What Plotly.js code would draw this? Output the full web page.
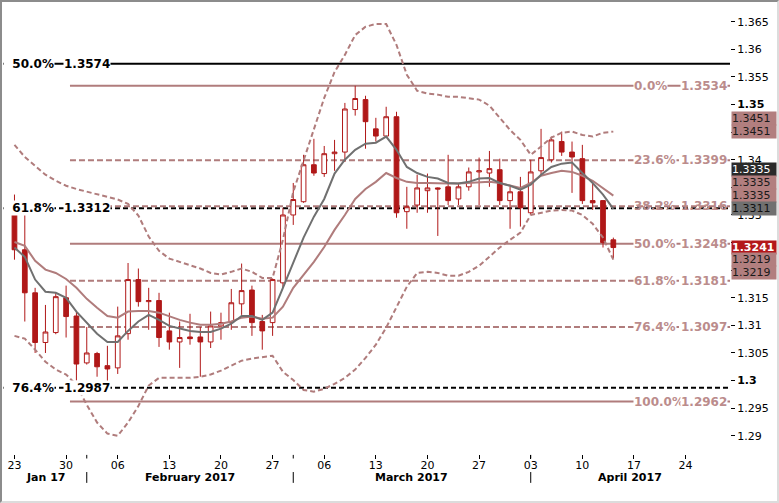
<!DOCTYPE html>
<html><head><meta charset="utf-8">
<script src="https://cdn.plot.ly/plotly-3.0.1.min.js"></script>
<style>
html,body{margin:0;padding:0;background:#fff;}
#wrap{position:relative;width:779px;height:503px;overflow:hidden;}
#chart{position:absolute;left:0;top:0;width:779px;height:503px;}
#frame{position:absolute;left:0;top:0;width:779px;height:503px;box-sizing:border-box;
border-top:2px solid #8c8c8c;border-left:2px solid #8c8c8c;border-right:2px solid #dcdcdc;border-bottom:2px solid #dcdcdc;pointer-events:none;}
</style></head>
<body><div id="wrap"><div id="chart"></div><div id="frame"></div></div>
<script>
// ---- data ----
const dates = ['2017-01-23','2017-01-24','2017-01-25','2017-01-26','2017-01-27','2017-01-30','2017-01-31',
'2017-02-01','2017-02-02','2017-02-03','2017-02-06','2017-02-07','2017-02-08','2017-02-09','2017-02-10',
'2017-02-13','2017-02-14','2017-02-15','2017-02-16','2017-02-17','2017-02-20','2017-02-21','2017-02-22',
'2017-02-23','2017-02-24','2017-02-27','2017-02-28',
'2017-03-01','2017-03-02','2017-03-03','2017-03-06','2017-03-07','2017-03-08','2017-03-09','2017-03-10',
'2017-03-13','2017-03-14','2017-03-15','2017-03-16','2017-03-17','2017-03-20','2017-03-21','2017-03-22',
'2017-03-23','2017-03-24','2017-03-27','2017-03-28','2017-03-29','2017-03-30','2017-03-31',
'2017-04-03','2017-04-04','2017-04-05','2017-04-06','2017-04-07','2017-04-10','2017-04-11','2017-04-12','2017-04-13'];
const open = [1.3300,1.3237,1.3159,1.3069,1.3087,1.3150,1.3117,1.3032,1.3049,1.3027,
1.3023,1.3085,1.3183,1.3143,1.3145,1.3090,1.3070,1.3079,1.3079,1.3070,
1.3099,1.3105,1.3139,1.3164,1.3107,1.3105,1.3177,1.3300,1.3324,1.3391,
1.3375,1.3411,1.3414,1.3491,1.3509,1.3456,1.3443,1.3478,1.3306,1.3318,
1.3344,1.3349,1.3351,1.3329,1.3351,1.3378,1.3376,1.3382,1.3326,1.3342,
1.3304,1.3380,1.3400,1.3433,1.3414,1.3402,1.3326,1.3326,1.3255];
const high = [1.3337,1.3304,1.3168,1.3137,1.3159,1.3172,1.3125,1.3097,1.3052,1.3063,
1.3134,1.3213,1.3203,1.3168,1.3159,1.3123,1.3107,1.3121,1.3097,1.3125,
1.3123,1.3166,1.3212,1.3172,1.3119,1.3185,1.3313,1.3358,1.3409,1.3438,
1.3425,1.3436,1.3503,1.3534,1.3516,1.3476,1.3496,1.3487,1.3351,1.3373,
1.3375,1.3350,1.3409,1.3358,1.3386,1.3404,1.3416,1.3402,1.3351,1.3369,
1.3400,1.3456,1.3442,1.3451,1.3433,1.3427,1.3358,1.3327,1.3259];
const low = [1.3219,1.3107,1.3050,1.3050,1.3084,1.3078,1.3000,1.3029,1.3007,1.2994,
1.3012,1.3074,1.3134,1.3092,1.3061,1.3056,1.3023,1.3065,1.3007,1.3059,
1.3074,1.3092,1.3119,1.3081,1.3056,1.3081,1.3168,1.3282,1.3322,1.3371,
1.3369,1.3380,1.3396,1.3480,1.3420,1.3433,1.3442,1.3295,1.3275,1.3304,
1.3304,1.3262,1.3318,1.3318,1.3344,1.3318,1.3351,1.3318,1.3275,1.3279,
1.3300,1.3371,1.3395,1.3407,1.3340,1.3320,1.3309,1.3241,1.3222];
const close = [1.3237,1.3159,1.3069,1.3088,1.3152,1.3116,1.3030,1.3050,1.3025,1.3021,
1.3081,1.3183,1.3143,1.3145,1.3078,1.3070,1.3078,1.3076,1.3070,1.3099,
1.3105,1.3141,1.3163,1.3105,1.3090,1.3183,1.3300,1.3328,1.3391,1.3376,
1.3411,1.3414,1.3492,1.3511,1.3469,1.3443,1.3478,1.3304,1.3315,1.3349,
1.3349,1.3347,1.3326,1.3351,1.3378,1.3380,1.3384,1.3326,1.3342,1.3313,
1.3378,1.3404,1.3436,1.3414,1.3405,1.3326,1.3322,1.3250,1.3241];
const fastMA = [1.3241,1.3224,1.3183,1.3161,1.3159,1.3150,1.3125,1.3105,1.3085,1.3070,
1.3070,1.3090,1.3107,1.3119,1.3110,1.3099,1.3094,1.3090,1.3088,1.3088,
1.3094,1.3103,1.3117,1.3117,1.3110,1.3123,1.3168,1.3215,1.3259,1.3297,
1.3329,1.3375,1.3400,1.3418,1.3429,1.3431,1.3442,1.3418,1.3387,1.3376,
1.3369,1.3366,1.3358,1.3357,1.3360,1.3366,1.3367,1.3358,1.3353,1.3346,
1.3355,1.3373,1.3387,1.3393,1.3395,1.3376,1.3358,1.3337,1.3311];
const midBand = [1.3251,1.3244,1.3217,1.3201,1.3195,1.3184,1.3168,1.3148,1.3132,1.3117,
1.3114,1.3125,1.3126,1.3126,1.3123,1.3116,1.3110,1.3105,1.3101,1.3101,
1.3103,1.3107,1.3114,1.3116,1.3112,1.3114,1.3134,1.3168,1.3192,1.3215,
1.3242,1.3273,1.3300,1.3329,1.3347,1.3360,1.3376,1.3367,1.3360,1.3358,
1.3358,1.3357,1.3357,1.3357,1.3358,1.3358,1.3360,1.3358,1.3353,1.3349,
1.3358,1.3371,1.3376,1.3380,1.3378,1.3371,1.3362,1.3349,1.3335];
const upperBand = [1.3427,1.3405,1.3389,1.3373,1.3362,1.3353,1.3347,1.3342,1.3337,1.3333,
1.3328,1.3320,1.3299,1.3261,1.3235,1.3221,1.3215,1.3208,1.3203,1.3195,
1.3192,1.3197,1.3203,1.3197,1.3186,1.3186,1.3255,1.3342,1.3400,1.3458,
1.3512,1.3559,1.3590,1.3626,1.3641,1.3646,1.3646,1.3608,1.3554,1.3525,
1.3520,1.3518,1.3514,1.3514,1.3512,1.3509,1.3498,1.3476,1.3454,1.3436,
1.3409,1.3424,1.3440,1.3449,1.3451,1.3445,1.3442,1.3449,1.3451];
const lowerBand = [1.3081,1.3076,1.3056,1.3034,1.3020,1.3011,1.2992,1.2956,1.2924,1.2904,
1.2900,1.2924,1.2954,1.2991,1.3005,1.3005,1.3005,1.3005,1.3007,1.3011,
1.3018,1.3027,1.3036,1.3040,1.3043,1.3045,1.3016,1.3001,1.2983,1.2980,
1.2985,1.2994,1.3005,1.3020,1.3041,1.3065,1.3096,1.3134,1.3170,1.3195,
1.3197,1.3195,1.3190,1.3190,1.3197,1.3208,1.3224,1.3241,1.3255,1.3268,
1.3300,1.3304,1.3308,1.3309,1.3308,1.3300,1.3284,1.3259,1.3219];

// Fibonacci levels
const fibBlackLabels = ['50.0%','61.8%','76.4%'];
const fibBlackValues = [1.3574,1.3312,1.2987];
const fibBlackDash = ['solid','dash','dash'];
const fibPinkLabels = ['0.0%','23.6%','38.2%','50.0%','61.8%','76.4%','100.0%'];
const fibPinkValues = [1.3534,1.3399,1.3316,1.3248,1.3181,1.3097,1.2962];
const fibPinkDash = ['solid','dash','dash','solid','dash','dash','solid'];
const fibPinkStart = '2017-01-30 21:00';

// axis ticks
const xTickDates = ['2017-01-23','2017-01-30','2017-02-06','2017-02-13','2017-02-20','2017-02-27','2017-03-06',
'2017-03-13','2017-03-20','2017-03-27','2017-04-03','2017-04-10','2017-04-17','2017-04-24'];
const xTickText = ['23','30','06','13','20','27','06','13','20','27','03','10','17','24'];
const monthLabels = ['Jan 17','February 2017','March 2017','April 2017'];
const monthLabelPos = ['2017-01-26 11:00','2017-02-15 12:00','2017-03-17 00:00','2017-04-17 02:00'];
const monthSeparators = ['2017-02-01','2017-03-01','2017-04-03'];
const yTickVals = [1.29,1.295,1.30,1.305,1.31,1.315,1.32,1.325,1.33,1.335,1.34,1.345,1.35,1.355,1.36,1.365];
// labels at 1.32, 1.325, 1.335 and 1.345 sit under the value tags in the reference
const yTickText = ['1.29','1.295','<b>1.3</b>','1.305','1.31','1.315','','','1.33','','1.34','','<b>1.35</b>','1.355','1.36','1.365'];

// right-hand value tags
const tagValues = [1.3451,1.3451,1.3335,1.3335,1.3335,1.3311,1.3241,1.3219,1.3219];
const tagShift  = [13,0,26,13,0,0,0,0,-13];
const tagBg     = ['#b27f7f','#b27f7f','#2a2a2a','#b27f7f','#b27f7f','#707070','#b3181b','#b27f7f','#b27f7f'];
const tagFg     = ['#1a1a1a','#1a1a1a','#ffffff','#1a1a1a','#1a1a1a','#111111','#ffffff','#1a1a1a','#1a1a1a'];

// ---- build ----
const X = dates.map(d => d + ' 12:00');
const RED = '#b01818', PINK = '#b07c7c', PINKTXT = '#bb8c8c';
const xRange = ['2017-01-20 09:20','2017-04-28 19:12'];
const FONT = 'DejaVu Sans, Verdana, sans-serif';

const traces = [
 {type:'scatter',mode:'lines',x:X,y:upperBand,line:{color:PINK,width:2,dash:'5px,3px'},hoverinfo:'skip'},
 {type:'scatter',mode:'lines',x:X,y:lowerBand,line:{color:PINK,width:2,dash:'5px,3px'},hoverinfo:'skip'},
 {type:'scatter',mode:'lines',x:X,y:midBand,line:{color:PINK,width:2},hoverinfo:'skip'},
 {type:'scatter',mode:'lines',x:X,y:fastMA,line:{color:'#707070',width:2},hoverinfo:'skip'},
 {type:'candlestick',x:X,open:open,high:high,low:low,close:close,whiskerwidth:0,
  increasing:{line:{color:RED,width:1},fillcolor:'#ffffff'},
  decreasing:{line:{color:RED,width:1},fillcolor:RED},hoverinfo:'skip'}
];

const shapes = [];
const annotations = [];
fibBlackValues.forEach((v,i)=>{
  shapes.push({type:'line',xref:'paper',x0:0,x1:1,yref:'y',y0:v,y1:v,layer:'below',
    line:{color:'#000',width:2,dash:fibBlackDash[i]==='dash'?'5px,3px':'solid'}});
  annotations.push({xref:'paper',x:0,xanchor:'left',xshift:0,yref:'y',y:v,yanchor:'middle',showarrow:false,
    text:'<b>&nbsp;&nbsp;'+fibBlackLabels[i]+'</b>',font:{family:FONT,size:12,color:'#000'},bgcolor:'#fff',borderpad:0});
  annotations.push({xref:'paper',x:0,xanchor:'left',xshift:60,yref:'y',y:v,yanchor:'middle',showarrow:false,
    text:'<b>'+v.toFixed(4)+'</b>',font:{family:FONT,size:12,color:'#000'},bgcolor:'#fff',borderpad:0});
});
fibPinkValues.forEach((v,i)=>{
  shapes.push({type:'line',xref:'x',x0:fibPinkStart,x1:xRange[1],yref:'y',y0:v,y1:v,layer:'below',
    line:{color:PINK,width:2,dash:fibPinkDash[i]==='dash'?'6px,3px':'solid'}});
  const bg = (fibPinkLabels[i]==='38.2%') ? 'rgba(0,0,0,0)' : '#fff';
  annotations.push({xref:'paper',x:1,xanchor:'left',xshift:-97,yref:'y',y:v,yanchor:'middle',showarrow:false,
    text:'<b>'+fibPinkLabels[i]+'</b>',font:{family:FONT,size:12,color:PINKTXT},bgcolor:bg,borderpad:0});
  annotations.push({xref:'paper',x:1,xanchor:'right',xshift:-2,yref:'y',y:v,yanchor:'middle',showarrow:false,
    text:'<b>'+v.toFixed(4)+'</b>',font:{family:FONT,size:12,color:PINKTXT},bgcolor:bg,borderpad:0});
});
// month separators
monthSeparators.forEach(d=>{
  const xd = d + ' 12:00';
  shapes.push({type:'line',xref:'x',x0:xd,x1:xd,yref:'paper',y0:-0.002,y1:-0.010,line:{color:'#000',width:1}});
  shapes.push({type:'line',xref:'x',x0:xd,x1:xd,yref:'paper',y0:-0.040,y1:-0.064,line:{color:'#000',width:1}});
});
monthLabels.forEach((t,i)=>{
  annotations.push({xref:'x',x:monthLabelPos[i],yref:'paper',y:-0.052,yanchor:'middle',xanchor:'center',showarrow:false,
    text:'<b>'+t+'</b>',font:{family:FONT,size:11,color:'#000'},borderpad:0});
});
// value tags
tagValues.forEach((v,i)=>{
  const bold = tagBg[i]==='#b3181b';
  annotations.push({xref:'paper',x:1,xanchor:'left',xshift:1,yref:'y',y:v,yanchor:'middle',yshift:tagShift[i],
    showarrow:false,text:bold?'<b>'+v.toFixed(4)+'</b>':v.toFixed(4),align:'left',width:44,height:13,
    font:{family:FONT,size:11,color:tagFg[i]},bgcolor:tagBg[i],borderpad:0});
});

const layout = {
  width:779,height:503,margin:{l:3,r:49,t:3,b:49},
  paper_bgcolor:'#fff',plot_bgcolor:'#fff',showlegend:false,
  font:{family:FONT,size:11,color:'#000'},
  boxgap:0.35,
  xaxis:{type:'date',range:xRange,rangebreaks:[{bounds:['sat','mon']}],rangeslider:{visible:false},
    tickmode:'array',tickvals:xTickDates.map(d=>d+' 12:00'),ticktext:xTickText,
    ticks:'outside',ticklen:4,tickcolor:'#000',ticklabelstandoff:-3,showgrid:false,zeroline:false,showline:false,
    tickfont:{family:FONT,size:11,color:'#000'},fixedrange:true},
  yaxis:{side:'right',range:[1.2867,1.3684],tickmode:'array',tickvals:yTickVals,ticktext:yTickText,
    ticks:'outside',ticklen:4,tickcolor:'#000',showgrid:false,zeroline:false,showline:false,
    tickfont:{family:FONT,size:11,color:'#000'},fixedrange:true},
  shapes:shapes,annotations:annotations
};
Plotly.newPlot('chart',traces,layout,{staticPlot:true,displayModeBar:false});
</script></body></html>
